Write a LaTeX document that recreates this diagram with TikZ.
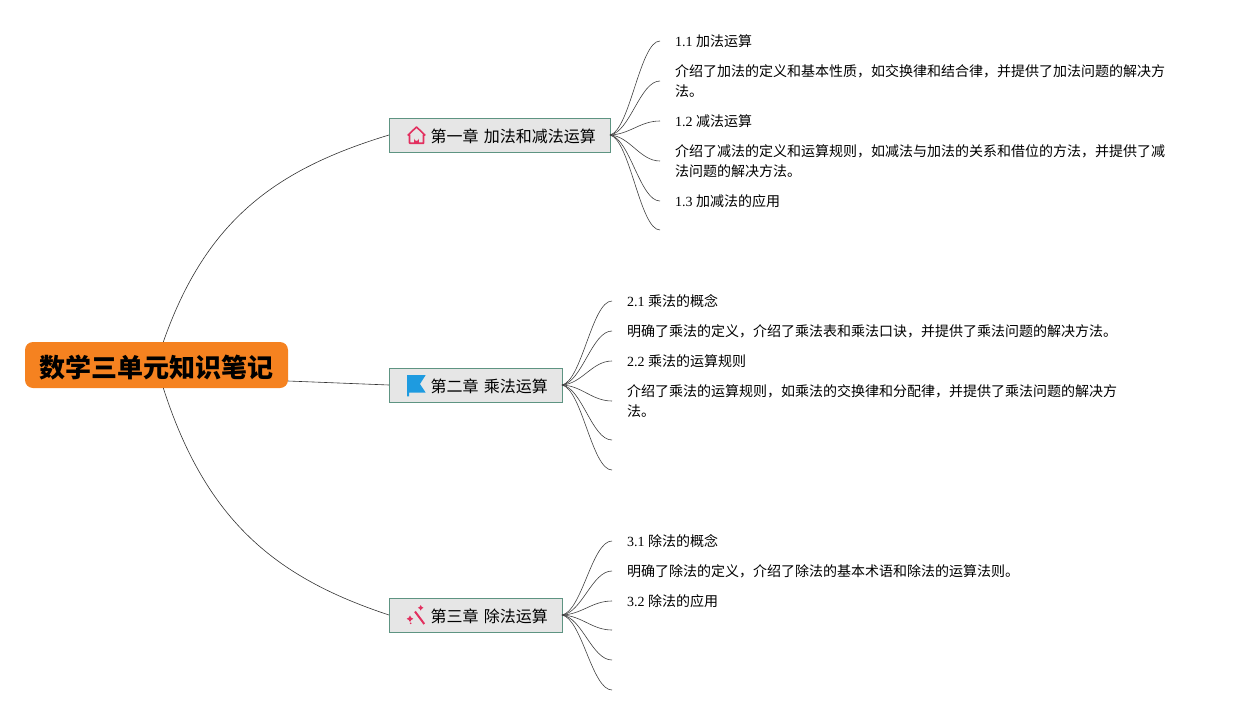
\documentclass[tikz,border=0pt]{standalone}
\usepackage{fontspec}
\usetikzlibrary{calc}
\setmainfont{Liberation Serif}
\newfontfamily\cjk{Noto Sans CJK SC}
\definecolor{rootorange}{HTML}{F58220}
\definecolor{chapgray}{HTML}{E6E6E6}
\definecolor{chapline}{HTML}{5E9482}
\definecolor{iconred}{HTML}{E2305F}
\definecolor{iconblue}{HTML}{1E9BE0}
\tikzset{
  rootbox/.style={fill=rootorange,rounded corners=8pt,minimum width=263pt,minimum height=46pt,
    inner sep=0pt,outer sep=0pt,text height=24pt,text depth=0pt,font=\fontsize{26}{30}\selectfont\cjk\bfseries},
  chapbox/.style={draw=chapline,fill=chapgray,line width=0.8pt,anchor=west,minimum height=34pt,
    inner xsep=14pt,inner ysep=0pt,outer sep=0pt,align=right,text height=14pt,text depth=0pt,
    font=\fontsize{16}{20}\selectfont\cjk},
  leaf/.style={anchor=west,inner xsep=15pt,inner ysep=0pt,outer sep=0pt,align=left,font=\fontsize{14}{20}\selectfont},
  branch/.style={draw=black!80,line width=0.6pt},
  twig/.style={draw=black!75,line width=0.6pt,
    to path={let \p1=(\tikztostart),\p2=(\tikztotarget) in
      .. controls ({\x1+0.4*(\x2-\x1)},{\y1+0.05*(\y2-\y1)}) and ({\x1+0.6*(\x2-\x1)},\y2) .. (\tikztotarget)}},
  houseicon/.pic={
    \draw[iconred,line width=1.6pt,line join=round] (-7,0) -- (-8.4,0) -- (0,-8) -- (8.4,0) -- (7,0) -- (7,8.2) -- (-7,8.2) -- cycle;
    \fill[iconred] (-2.4,8.5) -- (-2.4,3.5) arc[start angle=180,end angle=0,radius=2.4] -- (2.4,8.5) -- cycle;
  },
  flagicon/.pic={
    \fill[iconblue] (-9.5,-10.5) -- (9.2,-10.5) -- (3.5,-1.5) -- (9.2,7.2) -- (-7.5,7.2) -- (-7.5,10.8) -- (-9.5,10.8) -- cycle;
  },
  wandicon/.pic={
    \draw[iconred,line width=2pt] (-1.5,-4.5) -- (7.8,8);
    \fill[iconred] (4.2,-11) -- (5.2,-9.2) -- (7,-8.2) -- (5.2,-7.2) -- (4.2,-5.4) -- (3.2,-7.2) -- (1.4,-8.2) -- (3.2,-9.2) -- cycle;
    \fill[iconred] (-6.5,-0.5) -- (-5.3,1.6) -- (-3.2,2.8) -- (-5.3,4) -- (-6.5,6.1) -- (-7.7,4) -- (-9.8,2.8) -- (-7.7,1.6) -- cycle;
    \fill[iconred] (-5.8,7.3) circle (0.9);
  },
}
\begin{document}
\begin{tikzpicture}[x=1pt,y=-1pt]

      \useasboundingbox (0,0) rectangle (1235,715);

      \node[rootbox] (root) at (156.5,365) {数学三单元知识笔记};

      \begin{scope}[every node/.style={chapbox}]
        \node[minimum width=221pt,text width=193pt] (ch1) at (389,135) {第一章 加法和减法运算};
        \node[minimum width=173pt,text width=145pt] (ch2) at (389,385) {第二章 乘法运算};
        \node[minimum width=173pt,text width=145pt] (ch3) at (389,615) {第三章 除法运算};
      \end{scope}

      \pic at (416.5,135) {houseicon};
      \pic at (416.5,385.5) {flagicon};
      \pic at (416.5,616) {wandicon};

      \begin{scope}[every node/.style={leaf}]
        \node (a1) at (660,41) {1.1 {\cjk 加法运算}};
        \node (a2) at (660,81) {\cjk 介绍了加法的定义和基本性质，如交换律和结合律，并提供了加法问题的解决方\\\cjk 法。};
        \node (a3) at (660,121) {1.2 {\cjk 减法运算}};
        \node (a4) at (660,161) {\cjk 介绍了减法的定义和运算规则，如减法与加法的关系和借位的方法，并提供了减\\\cjk 法问题的解决方法。};
        \node (a5) at (660,201) {1.3 {\cjk 加减法的应用}};
        \node (b1) at (612,301) {2.1 {\cjk 乘法的概念}};
        \node (b2) at (612,331) {\cjk 明确了乘法的定义，介绍了乘法表和乘法口诀，并提供了乘法问题的解决方法。};
        \node (b3) at (612,361) {2.2 {\cjk 乘法的运算规则}};
        \node (b4) at (612,401) {\cjk 介绍了乘法的运算规则，如乘法的交换律和分配律，并提供了乘法问题的解决方\\\cjk 法。};
        \node (c1) at (612,541) {3.1 {\cjk 除法的概念}};
        \node (c2) at (612,571) {\cjk 明确了除法的定义，介绍了除法的基本术语和除法的运算法则。};
        \node (c3) at (612,601) {3.2 {\cjk 除法的应用}};
      \end{scope}

      \coordinate (a6) at (660,230);
      \coordinate (b5) at (612,440);
      \coordinate (b6) at (612,470);
      \coordinate (c4) at (612,630);
      \coordinate (c5) at (612,660);
      \coordinate (c6) at (612,690);

      \path[branch] ([xshift=6.8pt]root.north) .. controls +(43,-123) and +(-112,34) .. (ch1.west);
      \path[branch] ([yshift=-16pt]root.east) -- (ch2.west);
      \path[branch] ([xshift=6.8pt]root.south) .. controls +(43,134) and +(-112,-37) .. (ch3.west);

      \begin{scope}[every edge/.style={twig}]
        \path (ch1.east) edge (a1.west) edge (a2.west) edge (a3.west) edge (a4.west) edge (a5.west) edge (a6);
        \path (ch2.east) edge (b1.west) edge (b2.west) edge (b3.west) edge (b4.west) edge (b5) edge (b6);
        \path (ch3.east) edge (c1.west) edge (c2.west) edge (c3.west) edge (c4) edge (c5) edge (c6);
      \end{scope}

    \end{tikzpicture}
\end{document}
